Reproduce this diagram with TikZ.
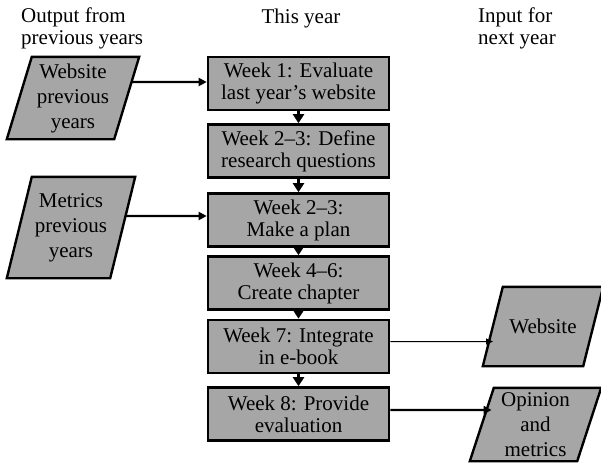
\documentclass[tikz,border=0pt]{standalone}
\usepackage{fontspec}
\setmainfont{Liberation Serif}
\usetikzlibrary{intersections,arrows.meta}
\definecolor{boxgray}{RGB}{166,166,166}
\pgfdeclarelayer{background}
\pgfsetlayers{background,main}
% slanted outline around a data node: #1 node name, #2 horizontal slant
\newcommand\paraoutline[2]{%
  \draw[paraline] ([xshift=#2]#1.north west) -- (#1.north east)
    -- ([xshift=-#2]#1.south east) -- (#1.south west) -- cycle;}
\begin{document}
\begin{tikzpicture}[x=1pt,y=-1pt,
  every node/.style={font=\fontsize{21}{22}\selectfont},
  stepbox/.style={draw, line width=2.6pt, fill=boxgray, minimum width=181pt,
    minimum height=53pt, align=center, inner sep=1pt},
  databox/.style={align=center, inner sep=1pt, font=\fontsize{21}{25}\selectfont},
  paraline/.style={draw, line width=2.4pt, fill=boxgray, line join=miter},
  flow/.style={line width=3.6pt, -{Triangle[length=9pt,width=11pt]}},
  feed/.style={line width=2.4pt, -{Triangle[length=8pt,width=8pt]}},
  thinfeed/.style={line width=1pt, -{Triangle[length=7pt,width=6pt]}},
  header/.style={inner sep=0pt, align=left}
]
\useasboundingbox (0,0) rectangle (601,463);

% column headings
\node[header, anchor=north west] (hout) at (21,8) {Output from\\previous years};
\node[header, anchor=base] (hthis) at (301,23) {This year};
\node[header, anchor=north west] (hin) at (478,8) {Input for\\next year};

% weekly steps
\node[stepbox] (b1) at (298.5,83.5) {Week 1: Evaluate\\last year’s website};
\node[stepbox] (b2) at (298.5,151) {Week 2–3: Define\\research questions};
\node[stepbox] (b3) at (298.5,220) {Week 2–3:\\Make a plan};
\node[stepbox] (b4) at (298.5,283) {Week 4–6:\\Create chapter};
\node[stepbox] (b5) at (298.5,346.5) {Week 7: Integrate\\in e-book};
\node[stepbox] (b6) at (298.5,414) {Week 8: Provide\\evaluation};

% inputs and outputs (text areas; outlines go on the background layer)
\node[databox, minimum width=132pt, minimum height=82pt] (wpy) at (73,98) {Website\\previous\\years};
\node[databox, minimum width=128pt, minimum height=101pt] (mpy) at (71,227.5) {Metrics\\previous\\years};
\node[databox, minimum width=120pt, minimum height=79pt] (web) at (543,326.5) {Website};
\node[databox, minimum width=131pt, minimum height=73pt] (op) at (535.5,424.5) {Opinion\\and\\metrics};

\begin{pgfonlayer}{background}
  \paraoutline{wpy}{25pt}
  \paraoutline{mpy}{25pt}
  \paraoutline{web}{20pt}
  \paraoutline{op}{24pt}
\end{pgfonlayer}

% step sequence
\draw[flow] (b1.south) -- (b2.north);
\draw[flow] (b2.south) -- (b3.north);
\draw[flow] (b3.south) -- (b4.north);
\draw[flow] (b4.south) -- (b5.north);
\draw[flow] (b5.south) -- (b6.north);

% incoming material
\path[name path=wpyR] (wpy.north east) -- ([xshift=-25pt]wpy.south east);
\path[name path=b1L] ([yshift=1.5pt]b1.west) -- ++(-200,0);
\path[name intersections={of=wpyR and b1L, by=wpyOut}];
\draw[feed] (wpyOut) -- ([yshift=1.5pt]b1.west);

\path[name path=mpyR] (mpy.north east) -- ([xshift=-25pt]mpy.south east);
\path[name path=b3L] ([yshift=4pt]b3.west) -- ++(-200,0);
\path[name intersections={of=mpyR and b3L, by=mpyOut}];
\draw[feed] (mpyOut) -- ([yshift=4pt]b3.west);

% outgoing material
\path[name path=webL] ([xshift=20pt]web.north west) -- (web.south west);
\path[name path=b5R] ([yshift=5pt]b5.east) -- ++(200,0);
\path[name intersections={of=webL and b5R, by=webIn}];
\draw[thinfeed, shorten >=-4pt] ([yshift=5pt]b5.east) -- (webIn);

\path[name path=opL] ([xshift=24pt]op.north west) -- (op.south west);
\path[name path=b6R] ([yshift=4pt]b6.east) -- ++(200,0);
\path[name intersections={of=opL and b6R, by=opIn}];
\draw[feed, shorten >=-5pt] ([yshift=4pt]b6.east) -- (opIn);
\end{tikzpicture}
\end{document}
